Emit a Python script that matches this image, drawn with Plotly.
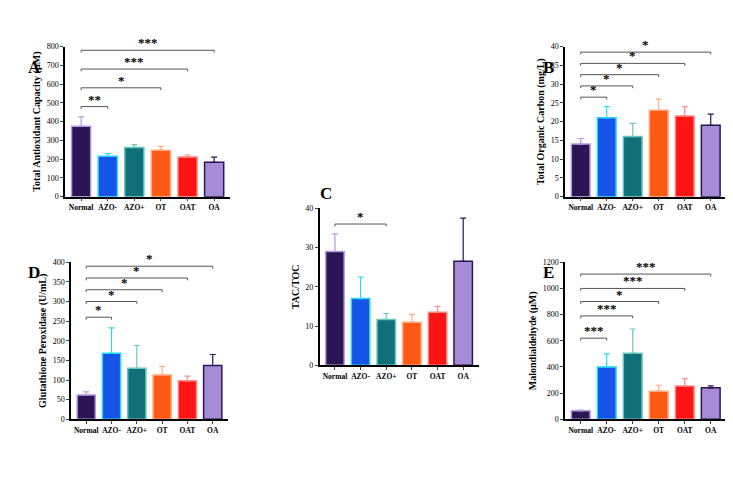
import plotly.graph_objects as go

groups = ["Normal", "AZO-", "AZO+", "OT", "OAT", "OA"]
fill = ["#2b1552", "#1554e6", "#10707a", "#ff5a14", "#ff1414", "#a68bd6"]
edge = ["#b49ae0", "#2ad8f5", "#6ec6c0", "#ffab80", "#ff8a8a", "#2b1552"]

tac = [375, 215, 262, 248, 212, 183]
tac_err = [50, 15, 15, 20, 10, 28]
toc = [14, 21, 16, 23, 21.5, 19]
toc_err = [1.5, 3, 3.5, 3, 2.5, 3]
ratio = [29, 17, 11.7, 11, 13.5, 26.5]
ratio_err = [4.5, 5.5, 1.5, 2, 1.5, 11]
gpx = [62, 168, 130, 113, 98, 137]
gpx_err = [8, 65, 58, 22, 12, 28]
mda = [65, 400, 505, 215, 255, 240]
mda_err = [5, 100, 185, 45, 55, 15]

# (target index, bracket height, stars)
tac_sig = [(1, 480, "**"), (3, 580, "*"), (4, 680, "***"), (5, 780, "***")]
toc_sig = [(1, 26.5, "*"), (2, 29.5, "*"), (3, 32.5, "*"), (4, 35.5, "*"), (5, 38.5, "*")]
ratio_sig = [(2, 36, "*")]
gpx_sig = [(1, 260, "*"), (2, 300, "*"), (3, 330, "*"), (4, 360, "*"), (5, 390, "*")]
mda_sig = [(1, 620, "***"), (2, 790, "***"), (3, 900, "*"), (4, 1000, "***"), (5, 1110, "***")]

# letter positions in paper coords
panels = [
    ("A", tac, tac_err, tac_sig, "Total Antioxidant Capacity (µM)", 800, 100, [0.078, 0.303], [0.620, 0.929], (0.025, 0.91)),
    ("B", toc, toc_err, toc_sig, "Total Organic Carbon (mg/L)", 40, 5, [0.760, 0.980], [0.620, 0.929], (0.748, 0.91)),
    ("C", ratio, ratio_err, ratio_sig, "TAC/TOC", 40, 10, [0.425, 0.642], [0.273, 0.596], (0.434, 0.626)),
    ("D", gpx, gpx_err, gpx_sig, "Glutathione Peroxidase (U/mL)", 400, 50, [0.086, 0.300], [0.162, 0.485], (0.025, 0.465)),
    ("E", mda, mda_err, mda_sig, "Malondialdehyde (µM)", 1200, 200, [0.760, 0.980], [0.162, 0.485], (0.748, 0.465)),
]

fnt = "Liberation Serif"
fig = go.Figure()
layout = {}
xs = list(range(len(groups)))
for i, (letter, vals, errs, sig, title, ymax, dt, xd, yd, lp) in enumerate(panels):
    n = "" if i == 0 else str(i + 1)
    xa, ya = "x" + n, "y" + n
    for j in xs:
        fig.add_trace(go.Bar(
            x=[j], y=[vals[j]], xaxis=xa, yaxis=ya, width=0.72,
            marker=dict(color=fill[j], line=dict(color=edge[j], width=1.5)),
            error_y=dict(type="data", array=[errs[j]], symmetric=False, arrayminus=[0],
                         color=edge[j], thickness=1.2, width=3),
            showlegend=False))
    tick = ymax * 0.015
    for k, h, stars in sig:
        fig.add_trace(go.Scatter(
            x=[0, 0, k, k], y=[h - tick, h, h, h - tick], xaxis=xa, yaxis=ya,
            mode="lines", line=dict(color="#555555", width=1), showlegend=False, hoverinfo="skip"))
        fig.add_annotation(x=k / 2, y=h, xref=xa, yref=ya, text="<b>" + stars + "</b>",
                           showarrow=False, yanchor="bottom", yshift=-2,
                           font=dict(size=13, family=fnt, color="black"))
    layout["xaxis" + n] = dict(domain=xd, anchor=ya, range=[-0.6, 5.6], tickvals=xs,
                               ticktext=["<b>" + g + "</b>" for g in groups], tickangle=0,
                               showline=True, linecolor="black", linewidth=1.5,
                               ticks="outside", ticklen=3, tickfont=dict(size=7.5, family=fnt, color="black"))
    layout["yaxis" + n] = dict(domain=yd, anchor=xa, range=[0, ymax], dtick=dt,
                               showline=True, linecolor="black", linewidth=1.5, showgrid=False,
                               ticks="outside", ticklen=3, tickfont=dict(size=8, family=fnt, color="black"),
                               title=dict(text="<b>" + title + "</b>", font=dict(size=10, family=fnt, color="black"),
                                          standoff=4))
    fig.add_annotation(x=lp[0], y=lp[1], xref="paper", yref="paper",
                       text="<b>" + letter + "</b>", showarrow=False,
                       font=dict(size=17, family=fnt, color="black"))

fig.update_layout(width=733, height=495, margin=dict(l=0, r=0, t=0, b=0),
                  plot_bgcolor="white", paper_bgcolor="white", bargap=0.2, **layout)
fig.write_html("out.html")
